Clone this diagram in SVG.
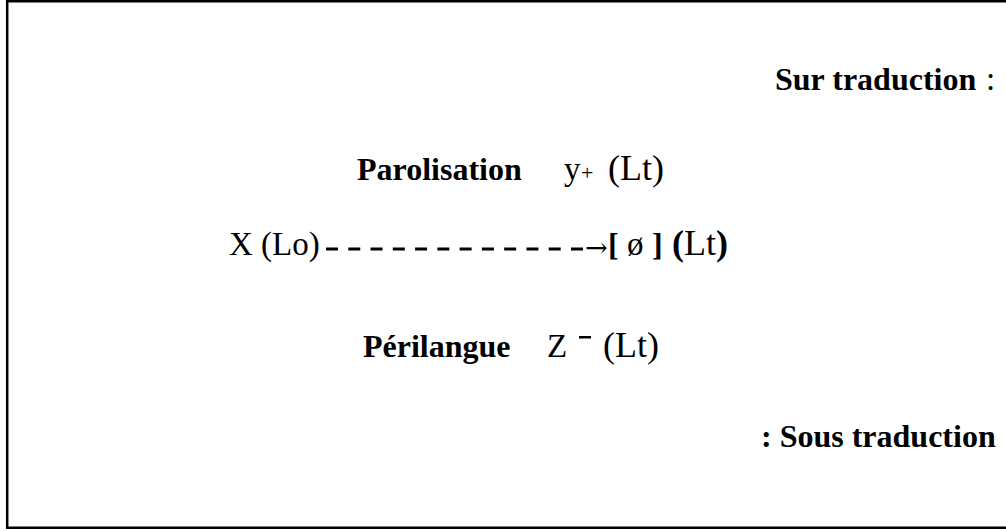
<svg xmlns="http://www.w3.org/2000/svg" width="1006" height="531" viewBox="0 0 1006 531">
<style>
.b{font-family:"Liberation Serif","Times New Roman",serif;font-weight:bold;font-size:32px;fill:#000}
.r{font-family:"Liberation Serif","Times New Roman",serif;font-size:33px;fill:#000}
.lt{font-size:36px}
</style>
<rect width="1006" height="531" fill="#fff"/>
<g id="frame" stroke="#000" stroke-width="2.5" fill="none">
<path d="M1006,1.2 H7.2 V527.8 H1006"/>
</g>
<g id="sur"><text class="b" x="775" y="90">Sur traduction</text><text class="r" x="986" y="90">:</text></g>
<g id="parolisation"><text class="b" x="357" y="180">Parolisation</text>
<text class="r" x="564" y="180">y<tspan font-size="22" x="581">+</tspan><tspan class="lt" x="608">(Lt)</tspan></text></g>
<g id="source"><text class="r" x="229" y="255">X (Lo)</text></g>
<g id="connectors">
<line x1="326" y1="249" x2="583" y2="249" stroke="#000" stroke-width="3" stroke-dasharray="12 10.27"/>
<text x="585" y="257" font-family="DejaVu Serif,serif" font-size="27">→</text>
</g>
<g id="target"><text class="r" y="255"><tspan class="b" x="608">[</tspan><tspan x="627">ø</tspan><tspan class="b" x="652">]</tspan><tspan class="b lt" x="672">(</tspan><tspan class="lt">Lt</tspan><tspan class="b lt">)</tspan></text></g>
<g id="perilangue"><text class="b" x="363" y="357">Périlangue</text>
<text class="r" x="547" y="357">Z</text><rect x="579" y="336" width="12" height="2.5" fill="#000"/><text class="r lt" x="603" y="357">(Lt)</text></g>
<g id="sous"><text class="b" x="761" y="447">: Sous traduction</text></g>
</svg>
